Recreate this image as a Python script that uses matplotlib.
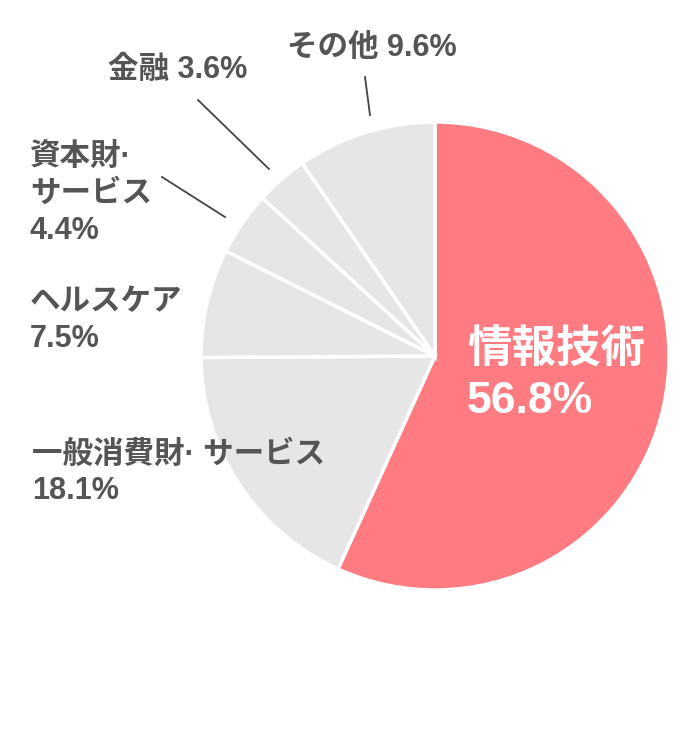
import matplotlib.pyplot as plt

# データ
sectors = ['情報技術', '一般消費財· サービス', 'ヘルスケア', '資本財·\nサービス', '金融', 'その他']
shares = [56.8, 18.1, 7.5, 4.4, 3.6, 9.6]
colors = ['#FF7B82', '#E6E6E6', '#E6E6E6', '#E6E6E6', '#E6E6E6', '#E6E6E6']

fonts = ['Liberation Sans', 'Noto Sans CJK JP']
txt = '#555555'

fig = plt.figure(figsize=(7, 7.4), dpi=100)
ax = fig.add_axes([0, 0, 1, 1])

# ピクセル座標で描く（y軸は下向き）
ax.pie(shares, colors=colors, startangle=-90, counterclock=True,
       center=(435, 356), radius=234,
       wedgeprops=dict(edgecolor='white', linewidth=2.5))
ax.set_xlim(0, 700)
ax.set_ylim(740, 0)
ax.set_aspect('equal')
ax.axis('off')

# ラベル
lbl = [f'{s}\n{v}%' for s, v in zip(sectors, shares)]
ax.text(467, 376, lbl[0], color='white', fontsize=32, fontweight='bold',
        family=fonts, va='center', ha='left', linespacing=1.3)
ax.text(32, 473, lbl[1], color=txt, fontsize=22, fontweight='bold',
        family=fonts, va='center', ha='left', linespacing=1.3)
ax.text(30, 321, lbl[2], color=txt, fontsize=22, fontweight='bold',
        family=fonts, va='center', ha='left', linespacing=1.3)
ax.text(30, 194, lbl[3], color=txt, fontsize=22, fontweight='bold',
        family=fonts, va='center', ha='left', linespacing=1.3)
ax.text(108, 70, f'{sectors[4]} {shares[4]}%', color=txt, fontsize=22,
        fontweight='bold', family=fonts, va='center', ha='left')
ax.text(287, 48, f'{sectors[5]} {shares[5]}%', color=txt, fontsize=22,
        fontweight='bold', family=fonts, va='center', ha='left')

# 引き出し線
ax.plot([162, 225], [177, 217], color='#444444', lw=1.3)
ax.plot([198, 269], [100, 169], color='#444444', lw=1.3)
ax.plot([365, 370], [77, 115], color='#444444', lw=1.3)

fig.savefig('out.png', dpi=100)
